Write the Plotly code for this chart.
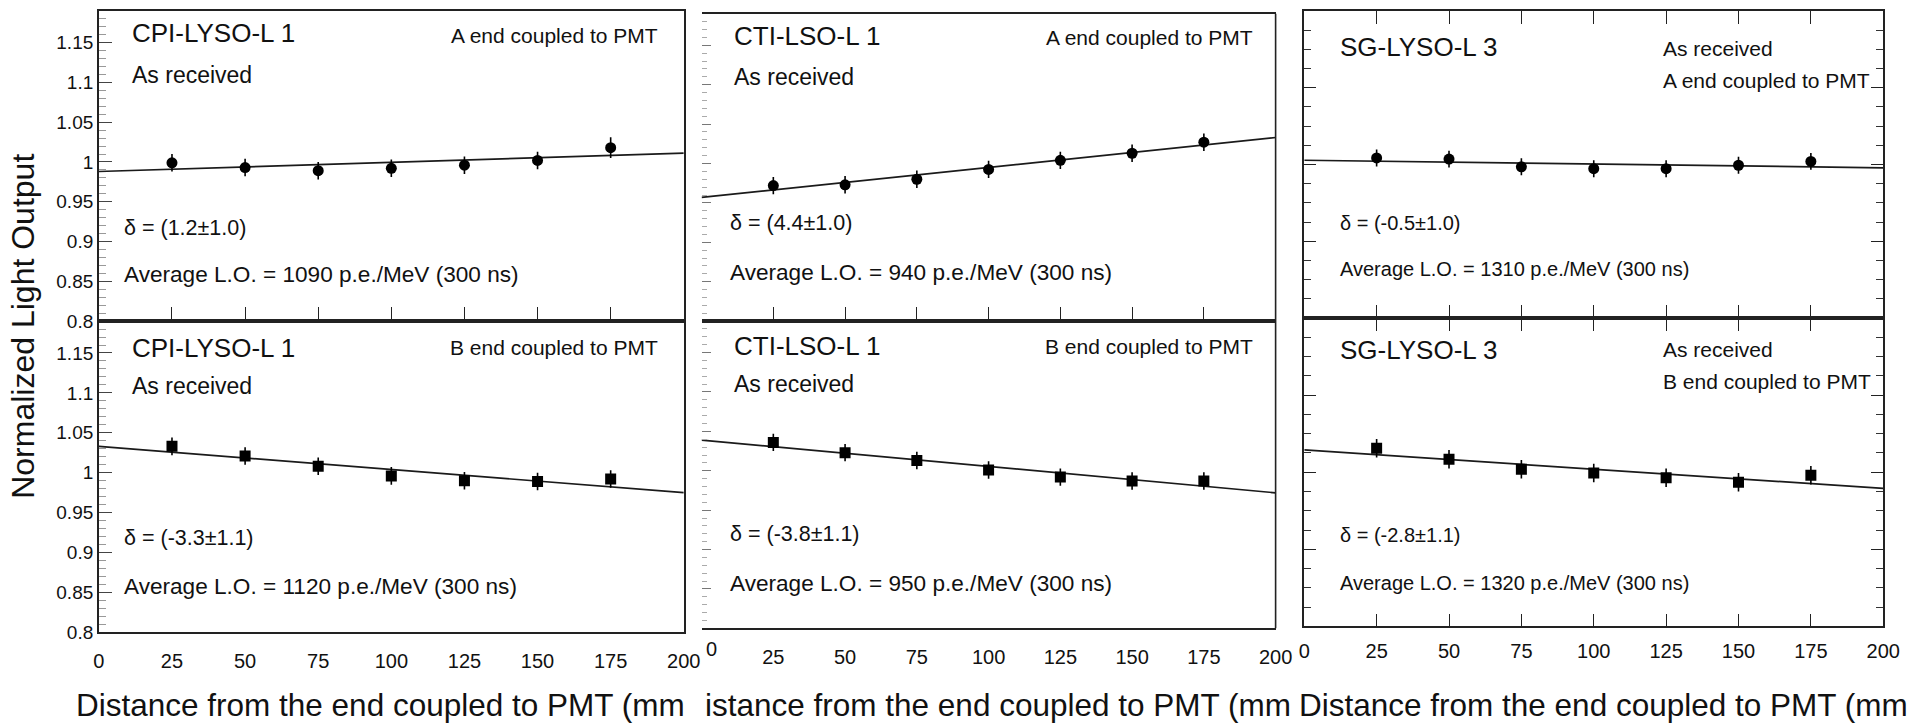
import plotly.graph_objects as go

# ---------------- data ----------------
distance_mm = [25, 50, 75, 100, 125, 150, 175]
fit_x = [0, 200]

cpi_a_lo = [0.999, 0.993, 0.989, 0.992, 0.996, 1.002, 1.018]
cpi_a_err = [0.011, 0.011, 0.011, 0.011, 0.011, 0.011, 0.013]
cpi_a_fit = [0.988, 1.011]

cpi_b_lo = [1.033, 1.021, 1.008, 0.996, 0.990, 0.989, 0.992]
cpi_b_err = [0.011, 0.011, 0.011, 0.011, 0.011, 0.011, 0.011]
cpi_b_fit = [1.033, 0.975]

cti_a_lo = [0.972, 0.973, 0.980, 0.9925, 1.004, 1.013, 1.027]
cti_a_err = [0.011, 0.011, 0.011, 0.011, 0.011, 0.011, 0.011]
cti_a_fit = [0.957, 1.033]

cti_b_lo = [1.036, 1.023, 1.013, 1.001, 0.992, 0.987, 0.987]
cti_b_err = [0.011, 0.011, 0.011, 0.011, 0.011, 0.011, 0.011]
cti_b_fit = [1.039, 0.972]

sg_a_lo = [1.0085, 1.007, 0.997, 0.9945, 0.9945, 0.999, 1.004]
sg_a_err = [0.011, 0.011, 0.011, 0.011, 0.011, 0.011, 0.011]
sg_a_fit = [1.0055, 0.9957]

sg_b_lo = [1.031, 1.017, 1.004, 0.999, 0.993, 0.987, 0.996]
sg_b_err = [0.012, 0.012, 0.012, 0.012, 0.012, 0.012, 0.012]
sg_b_fit = [1.029, 0.979]

crystal_names = ["CPI-LYSO-L 1", "CPI-LYSO-L 1", "CTI-LSO-L 1", "CTI-LSO-L 1", "SG-LYSO-L 3", "SG-LYSO-L 3"]
end_labels = ["A end coupled to PMT", "B end coupled to PMT"] * 3
state_label = "As received"
delta_labels = ["δ = (1.2±1.0)", "δ = (-3.3±1.1)", "δ = (4.4±1.0)", "δ = (-3.8±1.1)", "δ = (-0.5±1.0)", "δ = (-2.8±1.1)"]
lo_labels = ["Average L.O. = 1090 p.e./MeV (300 ns)", "Average L.O. = 1120 p.e./MeV (300 ns)",
             "Average L.O. = 940 p.e./MeV (300 ns)", "Average L.O. = 950 p.e./MeV (300 ns)",
             "Average L.O. = 1310 p.e./MeV (300 ns)", "Average L.O. = 1320 p.e./MeV (300 ns)"]

x_ticks = [0, 25, 50, 75, 100, 125, 150, 175, 200]
y_ticks = [0.8, 0.85, 0.9, 0.95, 1.0, 1.05, 1.1, 1.15]
y_tick_labels = ["0.8", "0.85", "0.9", "0.95", "1", "1.05", "1.1", "1.15"]
y_ticks_sg = [0.8, 0.9, 1.0, 1.1, 1.2]

y_title = "Normalized Light Output"
x_titles = ["Distance from the end coupled to PMT (mm", "istance from the end coupled to PMT (mm",
            "Distance from the end coupled to PMT (mm"]

# ---------------- layout helpers ----------------
W, H = 1920, 728
FONT = "Liberation Sans, Arial, Helvetica, sans-serif"
INK = "#111111"


def px(x):
    return x / W


def py(y):
    return 1 - y / H


# frame boxes in pixels: (left, right, top, bottom)
frames = {
    1: (94, 686, 11, 326), 2: (94, 686, 326, 642),
    3: (704, 1285, 14, 326), 4: (704, 1285, 326, 638),
    5: (1314, 1900, 11, 323), 6: (1314, 1900, 323, 636),
}

series = [
    (cpi_a_lo, cpi_a_err, cpi_a_fit, "circle"),
    (cpi_b_lo, cpi_b_err, cpi_b_fit, "square"),
    (cti_a_lo, cti_a_err, cti_a_fit, "circle"),
    (cti_b_lo, cti_b_err, cti_b_fit, "square"),
    (sg_a_lo, sg_a_err, sg_a_fit, "circle"),
    (sg_b_lo, sg_b_err, sg_b_fit, "square"),
]

fig = go.Figure()
for k, (vals, err, fit, sym) in enumerate(series, start=1):
    xr = "x" if k == 1 else f"x{k}"
    yr = "y" if k == 1 else f"y{k}"
    fig.add_trace(go.Scatter(x=fit_x, y=fit, mode="lines", xaxis=xr, yaxis=yr,
                             line=dict(color="#1a1a1a", width=1.7), showlegend=False,
                             hoverinfo="skip"))
    fig.add_trace(go.Scatter(x=distance_mm, y=vals, mode="markers", xaxis=xr, yaxis=yr,
                             marker=dict(symbol=sym, size=11, color="black"),
                             error_y=dict(type="data", array=err, color="black",
                                          thickness=1.6, width=0),
                             showlegend=False))

layout = dict(
    width=W, height=H,
    margin=dict(l=0, r=0, t=0, b=0),
    paper_bgcolor="white", plot_bgcolor="white",
    font=dict(family=FONT, color=INK),
    showlegend=False,
)

for k in range(1, 7):
    l, r, t, b = frames[k]
    xname = "xaxis" if k == 1 else f"xaxis{k}"
    yname = "yaxis" if k == 1 else f"yaxis{k}"
    lower = (k % 2 == 0)
    sg = k in (5, 6)
    cti = k in (3, 4)

    # the middle column's "0" label sits just right of its axis start in the
    # reference, so it is written separately below to keep it off the "200"
    xt = x_ticks[1:] if k == 4 else x_ticks
    xa = dict(domain=[px(l), px(r)], range=[0, 200], anchor="y" if k == 1 else f"y{k}",
              tickmode="array", tickvals=xt, ticktext=[str(v) for v in xt],
              showline=True, linecolor="#222", linewidth=1.6,
              showgrid=False, zeroline=False, showticklabels=lower,
              tickfont=dict(size=20, color=INK, family=FONT),
              tickcolor="#222", tickwidth=1.2)
    if sg:
        xa.update(ticks="inside", ticklen=13, mirror="ticks")
    elif lower:
        xa.update(ticks="", mirror=True)
    else:
        xa.update(ticks="inside", ticklen=14, mirror=True)
    if lower:
        xa.update(ticklabelstandoff=6 if sg else 10)

    if sg:
        ya = dict(range=[0.8, 1.2], tickmode="array", tickvals=y_ticks_sg,
                  ticks="inside", ticklen=12, tickwidth=1.3, tickcolor="#222",
                  showline=True, linecolor="#222", linewidth=1.6, mirror="ticks",
                  minor=dict(ticks="inside", ticklen=7, tickmode="linear", tick0=0.8,
                             dtick=0.025, tickcolor="#333", tickwidth=1.2, showgrid=False),
                  showticklabels=False)
    else:
        ya = dict(range=[0.8, 1.19], tickmode="array", tickvals=y_ticks,
                  ticktext=y_tick_labels, ticks="inside",
                  ticklen=13 if not cti else 9, tickwidth=1.3,
                  tickcolor="#444" if not cti else "#777",
                  minor=dict(ticks="inside", ticklen=7 if not cti else 5, tickmode="linear",
                             tick0=0.8, dtick=0.01,
                             tickcolor="#999" if not cti else "#aaa", tickwidth=1.2,
                             showgrid=False),
                  showticklabels=not cti,
                  tickfont=dict(size=19, color=INK, family=FONT))
        if cti:
            ya.update(showline=False, mirror=False)
        else:
            ya.update(showline=True, linecolor="#222", linewidth=1.6, mirror=True)
    ya.update(domain=[py(b), py(t)], anchor="x" if k == 1 else f"x{k}",
              showgrid=False, zeroline=False)
    layout[xname] = xa
    layout[yname] = ya

fig.update_layout(**layout)

# right frame edges of the CTI panels (their left edge shows only ticks)
for k in (3, 4):
    fig.add_shape(type="line", xref=f"x{k} domain", yref=f"y{k} domain",
                  x0=1, x1=1, y0=0, y1=1, line=dict(color="#222", width=1.6))

# ---------------- text ----------------
text_pos = {
    1: dict(nx=125, ny=34, ay=76, ex=662, ey=36, sx=117, dy=231, ly=279),
    2: dict(nx=125, ny=353, ay=392, ex=662, ey=353, sx=117, dy=546, ly=596),
    3: dict(nx=735, ny=37, ay=78, ex=1264, ey=38, sx=731, dy=226, ly=277),
    4: dict(nx=735, ny=351, ay=390, ex=1264, ey=352, sx=731, dy=542, ly=592),
    5: dict(nx=1348, ny=48, ay=49, ex=1675, ey=82, sx=1348, dy=226, ly=273),
    6: dict(nx=1348, ny=355, ay=355, ex=1675, ey=387, sx=1348, dy=543, ly=592),
}
anns = []
for k in range(1, 7):
    p = text_pos[k]
    sg = k in (5, 6)
    dsize = 20 if sg else 21.5
    lsize = 20 if sg else 22.6
    anns.append(dict(x=px(p["nx"]), y=py(p["ny"]), text=crystal_names[k - 1],
                     xanchor="left", yanchor="middle", font=dict(size=26)))
    if sg:
        anns.append(dict(x=px(p["ex"]), y=py(p["ay"]), text=state_label,
                         xanchor="left", yanchor="middle", font=dict(size=21)))
        anns.append(dict(x=px(p["ex"]), y=py(p["ey"]), text=end_labels[k - 1],
                         xanchor="left", yanchor="middle", font=dict(size=21)))
    else:
        anns.append(dict(x=px(p["nx"]), y=py(p["ay"]), text=state_label,
                         xanchor="left", yanchor="middle", font=dict(size=23)))
        anns.append(dict(x=px(p["ex"]), y=py(p["ey"]), text=end_labels[k - 1],
                         xanchor="right", yanchor="middle", font=dict(size=21)))
    anns.append(dict(x=px(p["sx"]), y=py(p["dy"]), text=delta_labels[k - 1],
                     xanchor="left", yanchor="middle", font=dict(size=dsize)))
    anns.append(dict(x=px(p["sx"]), y=py(p["ly"]), text=lo_labels[k - 1],
                     xanchor="left", yanchor="middle", font=dict(size=lsize)))

# "0" tick label of the middle column (offset right of the tick as in the reference)
anns.append(dict(x=px(706), y=py(659), text=str(x_ticks[0]), xanchor="left",
                 yanchor="middle", font=dict(size=20)))

anns.append(dict(x=px(17), y=py(331), text=y_title, textangle=-90,
                 xanchor="center", yanchor="middle", font=dict(size=32)))
for title, left in zip(x_titles, [69, 705, 1307]):
    anns.append(dict(x=px(left), y=py(716), text=title, xanchor="left",
                     yanchor="middle", font=dict(size=31.5)))

for a in anns:
    a.update(xref="paper", yref="paper", showarrow=False)
    a["font"].update(family=FONT, color=INK)
fig.update_layout(annotations=anns)

fig.write_html("out.html")
